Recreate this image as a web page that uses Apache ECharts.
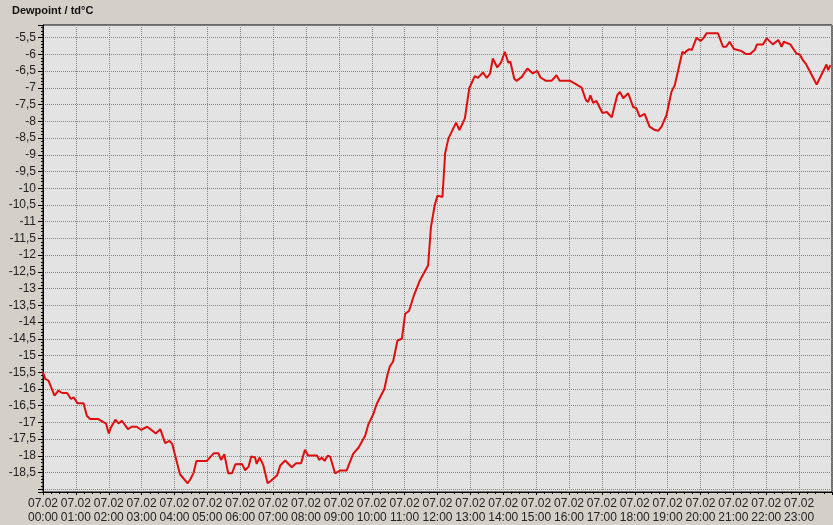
<!DOCTYPE html>
<html>
<head>
<meta charset="utf-8">
<script src="https://cdn.jsdelivr.net/npm/echarts@6/dist/echarts.min.js"></script>
<style>
html,body{margin:0;padding:0;background:#d4d0c8;}
#chart{width:833px;height:525px;}
</style>
</head>
<body>
<div id="chart"></div>
<script>
// time of day in minutes since 00:00 (07.02)
const minutes = [0,4,10,21,28,35,44,51,56,63,74,80,86,101,104,111,115,120,124,132,138,144,155,162,171,179,190,196,206,214,223,231,236,250,264,269,275,280,299,312,320,325,331,338,345,351,363,369,375,380,387,390,395,402,410,415,427,433,442,454,462,471,478,484,500,504,509,514,520,524,533,542,554,566,576,588,594,603,609,623,629,633,639,647,655,661,668,677,688,703,708,715,720,729,734,740,754,760,770,778,788,794,803,810,816,821,823,829,836,843,849,853,860,864,874,884,894,902,908,918,928,932,937,943,962,971,974,983,991,995,999,1004,1010,1013,1021,1029,1038,1041,1048,1053,1059,1068,1077,1083,1089,1098,1107,1117,1123,1129,1138,1147,1153,1167,1171,1174,1180,1184,1193,1200,1205,1211,1232,1241,1247,1253,1261,1268,1275,1283,1290,1299,1303,1314,1321,1332,1342,1348,1352,1364,1375,1381,1387,1393,1412,1430,1433,1437];
// dewpoint td in °C
const dewpoint = [-15.5,-15.7,-15.75,-16.2,-16.05,-16.12,-16.12,-16.3,-16.25,-16.43,-16.43,-16.8,-16.9,-16.9,-16.85,-17.0,-17.03,-17.33,-17.15,-16.92,-17.03,-16.95,-17.2,-17.13,-17.13,-17.22,-17.13,-17.2,-17.33,-17.2,-17.62,-17.55,-17.65,-18.55,-18.82,-18.7,-18.5,-18.15,-18.15,-17.92,-17.92,-18.12,-17.95,-18.52,-18.52,-18.25,-18.24,-18.43,-18.33,-18.02,-18.05,-18.24,-18.05,-18.27,-18.82,-18.76,-18.59,-18.29,-18.14,-18.34,-18.22,-18.22,-17.82,-17.99,-17.99,-18.12,-18.05,-18.15,-17.99,-18.02,-18.52,-18.44,-18.44,-17.94,-17.75,-17.4,-17.05,-16.75,-16.45,-16.0,-15.55,-15.33,-15.18,-14.55,-14.5,-13.75,-13.67,-13.2,-12.75,-12.3,-11.16,-10.5,-10.22,-10.26,-8.95,-8.51,-8.04,-8.26,-7.91,-7.01,-6.65,-6.7,-6.54,-6.7,-6.57,-6.12,-6.09,-6.39,-6.24,-5.92,-6.24,-6.22,-6.72,-6.79,-6.67,-6.42,-6.57,-6.49,-6.69,-6.79,-6.79,-6.72,-6.62,-6.79,-6.79,-6.87,-6.92,-6.99,-7.37,-7.42,-7.22,-7.45,-7.39,-7.42,-7.75,-7.72,-7.88,-7.84,-7.22,-7.12,-7.31,-7.16,-7.57,-7.61,-7.86,-7.78,-8.16,-8.26,-8.28,-8.16,-7.81,-7.12,-6.92,-5.92,-5.97,-5.9,-5.84,-5.87,-5.5,-5.6,-5.52,-5.37,-5.37,-5.77,-5.77,-5.62,-5.84,-5.87,-5.9,-5.99,-5.99,-5.87,-5.7,-5.7,-5.52,-5.7,-5.57,-5.77,-5.62,-5.7,-5.97,-6.0,-6.17,-6.3,-6.9,-6.3,-6.47,-6.32];
const dateLabel = '07.02';
const titleText = 'Dewpoint / td°C';
const yMin = -19.08, yMax = -5.12;

const seriesData = minutes.map((m, i) => [m, dewpoint[i]]);
const pad = n => (n < 10 ? '0' : '') + n;

const chart = echarts.init(document.getElementById('chart'), null, {renderer: 'canvas'});
chart.setOption({
  backgroundColor: '#d4d0c8',
  animation: false,
  title: {
    text: titleText, left: 12, top: 5, padding: 0,
    textStyle: {fontFamily: 'Liberation Sans, Arial, sans-serif', fontSize: 11, fontWeight: 'bold', color: '#111'}
  },
  grid: {
    left: 43, right: 1, top: 25, bottom: 33,
    show: true, backgroundColor: '#e3e3e3', borderColor: '#000', borderWidth: 1
  },
  xAxis: {
    type: 'value', min: 0, max: 1440, interval: 60,
    axisLine: {show: true, lineStyle: {color: '#000', width: 1}},
    axisTick: {show: true, length: 3, lineStyle: {color: '#000'}},
    minorTick: {show: true, splitNumber: 4, length: 2, lineStyle: {color: '#000'}},
    splitLine: {show: true, lineStyle: {type: 'dotted', color: '#858585', width: 1}},
    axisLabel: {
      showMaxLabel: false, margin: 5,
      fontFamily: 'Liberation Sans, Arial, sans-serif', fontSize: 12, lineHeight: 14, color: '#222',
      formatter: v => dateLabel + '\n' + pad(Math.floor(v / 60)) + ':' + pad(v % 60)
    }
  },
  yAxis: {
    type: 'value', min: yMin, max: yMax, minInterval: 0.5, maxInterval: 0.5, splitNumber: 28,
    axisLine: {show: true, lineStyle: {color: '#000', width: 1}},
    axisTick: {show: true, length: 5, lineStyle: {color: '#000'}},
    minorTick: {show: true, splitNumber: 5, length: 2, lineStyle: {color: '#000'}},
    splitLine: {show: true, lineStyle: {type: 'dotted', color: '#858585', width: 1}},
    axisLabel: {
      showMinLabel: false, showMaxLabel: false, margin: 7,
      fontFamily: 'Liberation Sans, Arial, sans-serif', fontSize: 12, color: '#222',
      formatter: v => {
        const r = Math.round(v * 100) / 100;
        if (r <= -19 || r > -5.5 + 1e-9) return r === -5.5 ? '-5,5' : '';
        return String(r).replace('.', ',');
      }
    }
  },
  series: [{
    type: 'line', data: seriesData, showSymbol: false, symbol: 'none',
    lineStyle: {color: '#dd0f0f', width: 2}, z: 5
  }]
});
</script>
</body>
</html>
